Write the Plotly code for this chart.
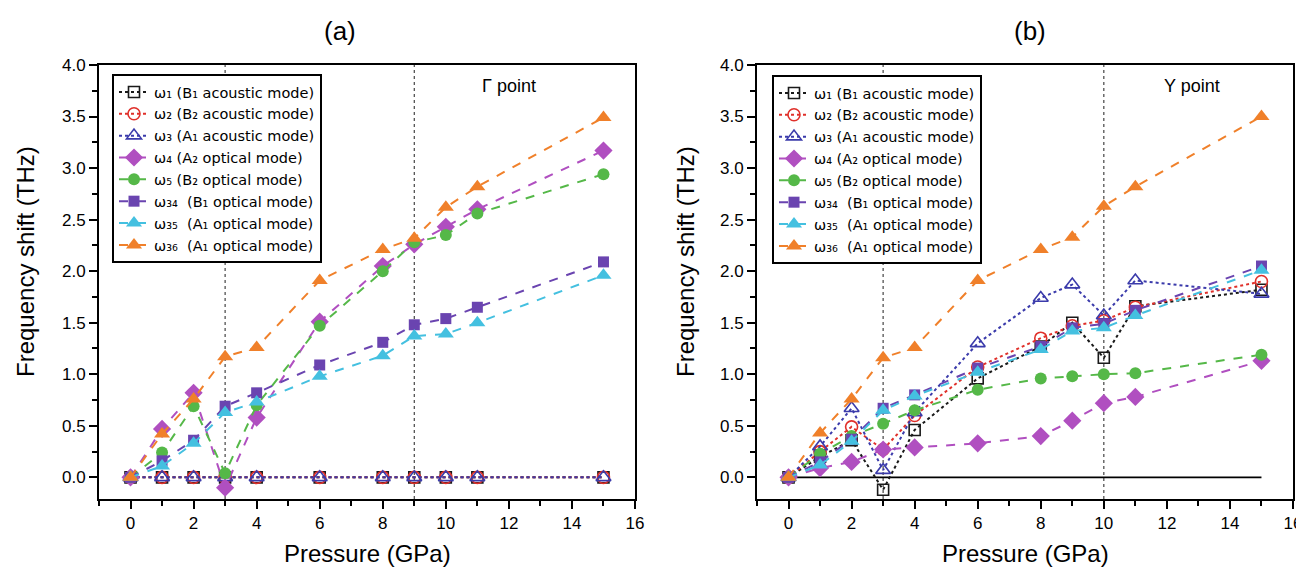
import plotly.graph_objects as go

# ---------------- data ----------------
pressure = [0, 1, 2, 3, 4, 6, 8, 9, 10, 11, 15]

# (a) Gamma point
g_w1 = [0.0, 0.0, 0.0, 0.0, 0.0, 0.0, 0.0, 0.0, 0.0, 0.0, 0.0]
g_w2 = [0.0, 0.0, 0.0, 0.0, 0.0, 0.0, 0.0, 0.0, 0.0, 0.0, 0.0]
g_w3 = [0.0, 0.0, 0.0, 0.0, 0.0, 0.0, 0.0, 0.0, 0.0, 0.0, 0.0]
g_w4 = [0.0, 0.47, 0.82, -0.10, 0.58, 1.51, 2.05, 2.26, 2.43, 2.60, 3.17]
g_w5 = [0.0, 0.24, 0.69, 0.04, 0.70, 1.47, 2.00, 2.28, 2.35, 2.56, 2.94]
g_w34 = [0.0, 0.16, 0.36, 0.69, 0.82, 1.09, 1.31, 1.48, 1.54, 1.65, 2.09]
g_w35 = [0.0, 0.11, 0.33, 0.63, 0.73, 0.98, 1.18, 1.37, 1.39, 1.50, 1.96]
g_w36 = [0.0, 0.42, 0.76, 1.17, 1.26, 1.91, 2.21, 2.32, 2.62, 2.82, 3.49]

# (b) Y point
y_w1 = [0.0, 0.20, 0.36, -0.12, 0.46, 0.96, 1.27, 1.50, 1.16, 1.66, 1.82]
y_w2 = [0.0, 0.25, 0.49, 0.27, 0.60, 1.07, 1.35, 1.47, 1.52, 1.65, 1.90]
y_w3 = [0.0, 0.30, 0.67, 0.07, 0.63, 1.30, 1.74, 1.87, 1.57, 1.91, 1.78]
y_w4 = [0.0, 0.09, 0.15, 0.27, 0.29, 0.33, 0.40, 0.55, 0.72, 0.78, 1.13]
y_w5 = [0.0, 0.23, 0.40, 0.52, 0.65, 0.85, 0.96, 0.98, 1.00, 1.01, 1.19]
y_w34 = [0.0, 0.15, 0.37, 0.67, 0.80, 1.06, 1.27, 1.45, 1.49, 1.62, 2.05]
y_w35 = [0.0, 0.12, 0.35, 0.65, 0.79, 1.02, 1.24, 1.42, 1.45, 1.57, 2.01]
y_w36 = [0.0, 0.43, 0.76, 1.16, 1.26, 1.91, 2.21, 2.33, 2.63, 2.82, 3.50]

series_names = [
    "ω₁ (B₁ acoustic mode)",
    "ω₂ (B₂ acoustic mode)",
    "ω₃ (A₁ acoustic mode)",
    "ω₄ (A₂ optical mode)",
    "ω₅ (B₂ optical mode)",
    "ω₃₄  (B₁ optical mode)",
    "ω₃₅  (A₁ optical mode)",
    "ω₃₆  (A₁ optical mode)",
]
gamma_series = [g_w1, g_w2, g_w3, g_w4, g_w5, g_w34, g_w35, g_w36]
ypoint_series = [y_w1, y_w2, y_w3, y_w4, y_w5, y_w34, y_w35, y_w36]

panel_titles = ["(a)", "(b)"]
point_labels = ["Γ point", "Y point"]
transition_pressures = [[3, 9], [3, 10]]
x_ticks = [0, 2, 4, 6, 8, 10, 12, 14, 16]
y_ticks = [0.0, 0.5, 1.0, 1.5, 2.0, 2.5, 3.0, 3.5, 4.0]

# ---------------- styles ----------------
colors = ["#1a1a1a", "#e0302a", "#3b3bab", "#b04fc0", "#55b848",
          "#6a44b0", "#44c0e0", "#f0802a"]
symbols = ["square-open", "circle-open", "triangle-up-open", "diamond",
           "circle", "square", "triangle-up", "triangle-up"]
dashes = ["dot", "dot", "dot", "dash", "dash", "dash", "dash", "dash"]
sizes = [11, 12, 13, 14, 12, 11, 14, 14]

FONT = "Liberation Sans, Arial, sans-serif"
LEG_FONT = "DejaVu Sans, Liberation Sans, sans-serif"
OFF = 8                      # page body margin
W, H = 1304 - OFF, 567 - OFF


def px_x(px):
    return (px - OFF) / W


def px_y(py):
    return 1 - (py - OFF) / H


# plot areas in page pixels
x_dom_px = [(99, 635), (757, 1293)]
y_dom_px = (65, 499)

fig = go.Figure()

for p, data in enumerate([gamma_series, ypoint_series]):
    xa = "x" if p == 0 else "x2"
    ya = "y" if p == 0 else "y2"
    leg = "legend" if p == 0 else "legend2"
    if p == 1:
        # zero reference line
        fig.add_trace(go.Scatter(
            x=[pressure[0], pressure[-1]], y=[0, 0], mode="lines",
            line=dict(color="black", width=1.6), showlegend=False,
            hoverinfo="skip", xaxis=xa, yaxis=ya))
    for i, vals in enumerate(data):
        fig.add_trace(go.Scatter(
            x=pressure, y=vals, mode="lines+markers", name=series_names[i],
            line=dict(color=colors[i], width=2, dash=dashes[i]),
            marker=dict(symbol=symbols[i], size=sizes[i], color=colors[i],
                        line=dict(width=1.6 if i < 3 else 0, color=colors[i])),
            xaxis=xa, yaxis=ya, legend=leg))

axis_common = dict(
    showline=True, linecolor="black", linewidth=2, mirror=True,
    ticks="outside", ticklen=8, tickwidth=2, tickcolor="black",
    showgrid=False, zeroline=False, automargin=False,
    tickfont=dict(family=FONT, size=17, color="black"),
)

layout = dict(
    width=W, height=H, margin=dict(l=0, r=0, t=0, b=0, pad=0),
    paper_bgcolor="white", plot_bgcolor="white",
    font=dict(family=FONT, color="black"),
    showlegend=True,
)

shapes = []
annotations = []
for p in range(2):
    sfx = "" if p == 0 else "2"
    x0, x1 = x_dom_px[p]
    layout["xaxis" + sfx] = dict(
        axis_common, domain=[px_x(x0), px_x(x1)], range=[-1, 16],
        tickvals=x_ticks, ticktext=[str(t) for t in x_ticks],
        minor=dict(dtick=1, ticklen=5, tickwidth=2, tickcolor="black", ticks="outside"),
        anchor="y" + sfx,
    )
    layout["yaxis" + sfx] = dict(
        axis_common, domain=[px_y(y_dom_px[1]), px_y(y_dom_px[0])],
        range=[-0.21, 4.0], tickvals=y_ticks,
        ticktext=["%.1f" % t for t in y_ticks],
        minor=dict(dtick=0.25, tick0=0, ticklen=5, tickwidth=2, tickcolor="black", ticks="outside"),
        anchor="x" + sfx,
    )
    for xp in transition_pressures[p]:
        shapes.append(dict(type="line", xref="x" + sfx, yref="y" + sfx + " domain",
                           x0=xp, x1=xp, y0=0, y1=1,
                           line=dict(color="#444444", width=1.2, dash="dot"),
                           layer="below"))
    # x-axis titles
    annotations.append(dict(
        text="Pressure (GPa)", xref="paper", yref="paper",
        x=px_x((x0 + x1) / 2), y=px_y(553), showarrow=False,
        font=dict(family=FONT, size=24, color="black"), xanchor="center", yanchor="middle"))
    # y-axis titles
    annotations.append(dict(
        text="Frequency shift (THz)", textangle=-90, xref="paper", yref="paper",
        x=px_x(25 if p == 0 else 685), y=px_y(262), showarrow=False,
        font=dict(family=FONT, size=24, color="black"), xanchor="center", yanchor="middle"))
    # panel titles
    annotations.append(dict(
        text=panel_titles[p], xref="paper", yref="paper",
        x=px_x(340 if p == 0 else 1030), y=px_y(31), showarrow=False,
        font=dict(family=FONT, size=26, color="black"), xanchor="center", yanchor="middle"))
    # point labels
    annotations.append(dict(
        text=point_labels[p], xref="x" + sfx, yref="y" + sfx,
        x=12.0 if p == 0 else 12.8, y=3.8, showarrow=False,
        font=dict(family=FONT, size=18, color="black"), xanchor="center", yanchor="middle"))

layout["shapes"] = shapes
layout["annotations"] = annotations

legend_common = dict(
    bgcolor="white", bordercolor="black", borderwidth=2,
    font=dict(family=LEG_FONT, size=14.5, color="black"),
    xanchor="left", yanchor="top", tracegroupgap=0, itemwidth=30,
)
layout["legend"] = dict(legend_common, x=px_x(112), y=px_y(74))
layout["legend2"] = dict(legend_common, x=px_x(772), y=px_y(75))

fig.update_layout(**layout)
fig.write_html("out.html")
